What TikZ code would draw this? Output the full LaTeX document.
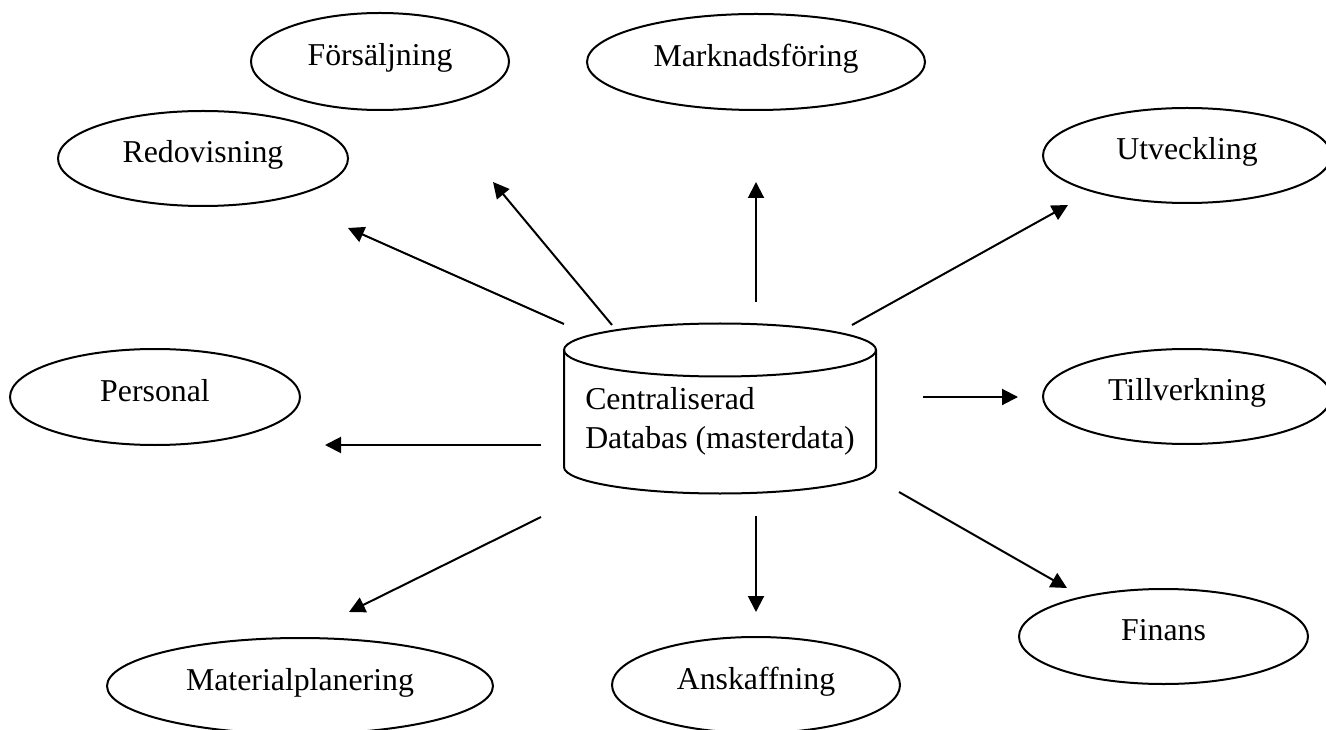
\documentclass[tikz,border=0pt]{standalone}
\usepackage{fontspec}
\setmainfont{Liberation Serif}
\usetikzlibrary{shapes.geometric,arrows.meta}
\begin{document}
\begin{tikzpicture}[x=0.75pt,y=0.75pt,
  txt/.style={font=\fontsize{23.85}{28.6}\selectfont},
  ell/.style={ellipse, draw, line width=1.5pt, inner sep=0pt, text height=10pt, text depth=3.3pt, txt},
  arr/.style={line width=1.5pt, -{Triangle[length=12pt,width=12pt]}},
  cyl/.style={line width=1.5pt}]
\useasboundingbox (0,0) rectangle (1326,-730);
% ellipses
\node[ell, minimum width={290*0.75pt}, minimum height={95*0.75pt}] (red) at (203,-158.5) {Redovisning};
\node[ell, minimum width={258*0.75pt}, minimum height={97*0.75pt}] (fors) at (380,-61.5) {Försäljning};
\node[ell, minimum width={338*0.75pt}, minimum height={96*0.75pt}] (mark) at (756,-62) {Marknadsföring};
\node[ell, minimum width={288*0.75pt}, minimum height={95*0.75pt}] (utv) at (1187,-155.5) {Utveckling};
\node[ell, minimum width={290*0.75pt}, minimum height={96*0.75pt}] (pers) at (155,-397) {Personal};
\node[ell, minimum width={288*0.75pt}, minimum height={95*0.75pt}] (till) at (1187,-396.5) {Tillverkning};
\node[ell, minimum width={289*0.75pt}, minimum height={95*0.75pt}] (fin) at (1163.5,-636.5) {Finans};
\node[ell, minimum width={288*0.75pt}, minimum height={96*0.75pt}] (ansk) at (756,-685) {Anskaffning\hspace{10.5pt}};
\node[ell, minimum width={386*0.75pt}, minimum height={96*0.75pt}] (mat) at (300,-686) {Materialplanering\hspace{12pt}};
% cylinder
\draw[cyl] (720,-350) ellipse [x radius=156, y radius=26.5];
\draw[cyl] (564,-350) -- (564,-467) arc [start angle=180, end angle=360, x radius=156, y radius=26.5] -- (876,-350);
\node[txt, anchor=base west, align=left, inner sep=0pt] (db) at (585,-448) {Centraliserad\\Databas (masterdata)};
% arrow end points
\coordinate (rA0) at (564,-324); \coordinate (rA1) at (348,-228);
\coordinate (fA0) at (612,-325); \coordinate (fA1) at (493,-182);
\coordinate (mA0) at (756,-302); \coordinate (mA1) at (756,-182);
\coordinate (uA0) at (852,-325); \coordinate (uA1) at (1068,-205);
\coordinate (pA0) at (541,-445); \coordinate (pA1) at (325,-445);
\coordinate (tA0) at (923,-397); \coordinate (tA1) at (1018,-397);
\coordinate (fiA0) at (899,-492); \coordinate (fiA1) at (1067,-588);
\coordinate (aA0) at (756,-516); \coordinate (aA1) at (756,-612);
\coordinate (mpA0) at (541,-517); \coordinate (mpA1) at (349,-612);
\draw[arr] (rA0) -- (rA1);
\draw[arr] (fA0) -- (fA1);
\draw[arr] (mA0) -- (mA1);
\draw[arr] (uA0) -- (uA1);
\draw[arr] (pA0) -- (pA1);
\draw[arr] (tA0) -- (tA1);
\draw[arr] (fiA0) -- (fiA1);
\draw[arr] (aA0) -- (aA1);
\draw[arr] (mpA0) -- (mpA1);
\end{tikzpicture}
\end{document}
